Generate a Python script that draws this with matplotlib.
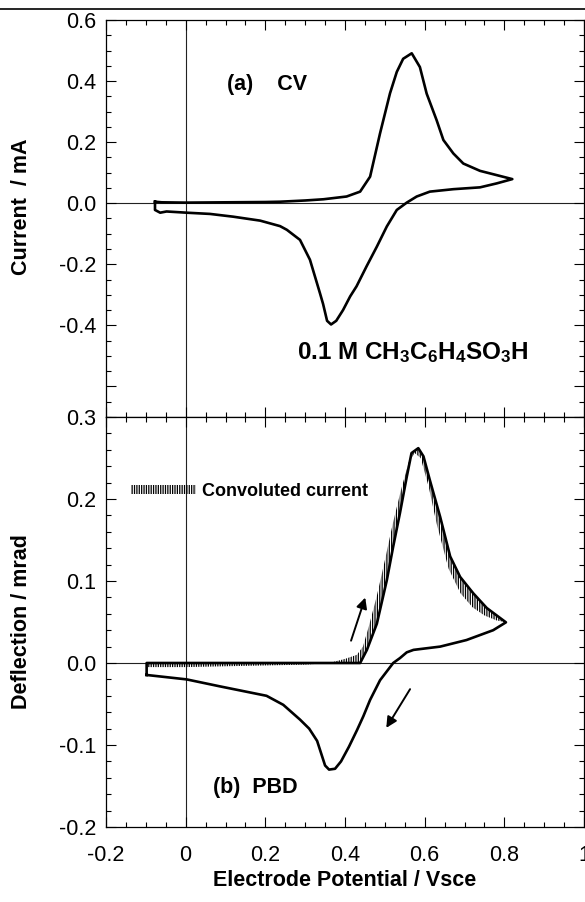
import numpy as np
import matplotlib
matplotlib.use("Agg")
import matplotlib.pyplot as plt
from matplotlib.patches import Polygon, Patch
from matplotlib.lines import Line2D
from matplotlib.ticker import MultipleLocator, FixedLocator, FixedFormatter

plt.rcParams['font.family'] = ['Liberation Sans', 'DejaVu Sans']
plt.rcParams['mathtext.fontset'] = 'custom'
plt.rcParams['mathtext.rm'] = 'Liberation Sans:bold'
plt.rcParams['mathtext.bf'] = 'Liberation Sans:bold'
plt.rcParams['mathtext.default'] = 'bf'
plt.rcParams['axes.unicode_minus'] = False
plt.rcParams['hatch.linewidth'] = 0.9

# (a) cyclic voltammogram: forward scan, vertex, return scan
cv_x = [-0.077, -0.06, 0.0, 0.1, 0.2, 0.237, 0.30, 0.346, 0.404, 0.438, 0.463, 0.488,
        0.513, 0.530, 0.546, 0.5675, 0.588, 0.605, 0.630, 0.647, 0.672, 0.697, 0.739,
        0.781, 0.820,
        0.781, 0.739, 0.672, 0.613, 0.580, 0.555, 0.530, 0.505, 0.480, 0.454, 0.429,
        0.413, 0.395, 0.378, 0.365, 0.355, 0.345, 0.337, 0.312, 0.287, 0.254, 0.237,
        0.187, 0.119, 0.061, 0.0025, -0.048, -0.064, -0.077, -0.077]
cv_y = [0.005, 0.003, 0.002, 0.003, 0.004, 0.005, 0.009, 0.013, 0.022, 0.038, 0.087, 0.229,
        0.36, 0.43, 0.473, 0.491, 0.446, 0.359, 0.272, 0.207, 0.163, 0.130, 0.106,
        0.092, 0.079,
        0.065, 0.052, 0.046, 0.038, 0.022, 0.002, -0.022, -0.076, -0.142, -0.207, -0.272,
        -0.305, -0.35, -0.385, -0.397, -0.385, -0.33, -0.294, -0.185, -0.12, -0.087, -0.075,
        -0.057, -0.044, -0.035, -0.031, -0.027, -0.031, -0.022, 0.005]

# (b) probe beam deflection
pbd_x = [-0.098, -0.098, 0.0, 0.1, 0.2, 0.3, 0.4, 0.438, 0.455, 0.48, 0.505, 0.521,
         0.538, 0.555, 0.567, 0.584, 0.597, 0.613, 0.639, 0.664, 0.689, 0.722, 0.756,
         0.804,
         0.772, 0.705, 0.639, 0.572, 0.555, 0.538, 0.521, 0.488, 0.463, 0.446, 0.43,
         0.41, 0.39, 0.375, 0.36, 0.35, 0.33, 0.31, 0.287, 0.245, 0.203, 0.086, 0.0025,
         -0.098]
pbd_y = [-0.0146, 0.0, 0.0, 0.0, 0.0, 0.0, 0.0, 0.0, 0.016, 0.048, 0.101, 0.142,
         0.183, 0.227, 0.256, 0.262, 0.252, 0.223, 0.178, 0.130, 0.105, 0.085, 0.067,
         0.0496,
         0.040, 0.028, 0.020, 0.016, 0.013, 0.006, 0.0, -0.021, -0.045, -0.065, -0.082,
         -0.102, -0.12, -0.129, -0.13, -0.125, -0.095, -0.08, -0.069, -0.051, -0.040,
         -0.0285, -0.020, -0.0146]
n_fwd = 24  # points of the forward branch in pbd_x / pbd_y

# convoluted current (forward scan only)
conv_x = [-0.095, 0.0, 0.1, 0.2, 0.3, 0.36, 0.40, 0.43, 0.445, 0.46, 0.48, 0.50, 0.52,
          0.54, 0.56, 0.575, 0.59, 0.61, 0.63, 0.66, 0.69, 0.72, 0.75, 0.78, 0.804]
conv_y = [-0.005, -0.005, -0.004, -0.003, -0.002, 0.0, 0.005, 0.010, 0.02, 0.045, 0.082,
          0.125, 0.17, 0.21, 0.245, 0.256, 0.25, 0.215, 0.17, 0.115, 0.085, 0.068, 0.058,
          0.052, 0.0496]

x_ticks = [-0.2, 0, 0.2, 0.4, 0.6, 0.8, 1.0]
x_labels = ['-0.2', '0', '0.2', '0.4', '0.6', '0.8', '1']
cv_ticks = [0.6, 0.4, 0.2, 0.0, -0.2, -0.4, -0.6]
cv_labels = ['0.6', '0.4', '0.2', '0.0', '-0.2', '-0.4', '']
pbd_ticks = [0.3, 0.2, 0.1, 0.0, -0.1, -0.2]
pbd_labels = ['0.3', '0.2', '0.1', '0.0', '-0.1', '-0.2']

W, H = 585, 902
fig = plt.figure(figsize=(W / 100, H / 100), dpi=100)
ax1 = fig.add_axes([106 / W, 1 - 417 / H, 478 / W, 397 / H])
ax2 = fig.add_axes([106 / W, 1 - 827 / H, 478 / W, 410 / H])

fig.add_artist(Line2D([0, 1], [1 - 9 / H] * 2, color='black', lw=1.2))

for ax in (ax1, ax2):
    ax.set_xlim(-0.2, 1.0)
    ax.xaxis.set_major_locator(FixedLocator(x_ticks))
    ax.xaxis.set_minor_locator(MultipleLocator(0.05))
    ax.tick_params(which='both', direction='in', top=True, right=True, width=0.8,
                   labelsize=15.5)
    ax.tick_params(which='major', length=7)
    ax.tick_params(which='minor', length=3.5)
    ax.tick_params(axis='y', pad=7)
    ax.tick_params(axis='x', pad=13)
    for s in ax.spines.values():
        s.set_linewidth(0.9)
    ax.axhline(0, color='#222222', lw=0.8, zorder=1)
    ax.axvline(0, color='#222222', lw=0.8, zorder=1)

# (a) CV
ax1.set_ylim(-0.7, 0.6)
ax1.yaxis.set_major_locator(FixedLocator(cv_ticks))
ax1.yaxis.set_major_formatter(FixedFormatter(cv_labels))
ax1.yaxis.set_minor_locator(MultipleLocator(0.05))
ax1.tick_params(axis='x', labelbottom=False)
ax1.plot(cv_x, cv_y, color='black', lw=1.9, zorder=3)
ax1.set_ylabel('Current  / mA', fontsize=15.5, fontweight='bold')
ax1.yaxis.set_label_coords(-0.155, 0.53)
ax1.text(0.104, 0.39, '(a)    CV', fontsize=15.5, fontweight='bold', va='center')
ax1.text(0.28, -0.49, r'0.1 M CH$_3$C$_6$H$_4$SO$_3$H', fontsize=17.5,
         fontweight='bold', va='center')

# (b) PBD
ax2.set_ylim(-0.2, 0.3)
ax2.yaxis.set_major_locator(FixedLocator(pbd_ticks))
ax2.yaxis.set_major_formatter(FixedFormatter(pbd_labels))
ax2.yaxis.set_minor_locator(MultipleLocator(0.02))
ax2.xaxis.set_major_formatter(FixedFormatter(x_labels))

band = list(zip(conv_x, conv_y)) + list(zip(pbd_x[1:n_fwd], pbd_y[1:n_fwd]))[::-1]
ax2.add_patch(Polygon(band, closed=True, fill=False, hatch='|||||||',
                      edgecolor='black', lw=0, zorder=2))
ax2.plot(pbd_x, pbd_y, color='black', lw=1.9, zorder=3)

ax2.annotate('', xy=(0.453, 0.083), xytext=(0.413, 0.024),
             arrowprops=dict(arrowstyle='-|>', lw=1.4, color='black', mutation_scale=16))
ax2.annotate('', xy=(0.50, -0.082), xytext=(0.567, -0.029),
             arrowprops=dict(arrowstyle='-|>', lw=1.4, color='black', mutation_scale=16))

ax2.legend(handles=[Patch(fill=False, hatch='|||||||', edgecolor='black', lw=0)],
           labels=['Convoluted current'], loc='center left',
           bbox_to_anchor=(-0.137, 0.209), bbox_transform=ax2.transData,
           frameon=False, borderpad=0, borderaxespad=0, handlelength=3.6,
           handleheight=0.35, handletextpad=0.35,
           prop={'weight': 'bold', 'size': 13})

ax2.text(0.068, -0.152, '(b)  PBD', fontsize=15.5, fontweight='bold', va='center')
ax2.set_ylabel('Deflection / mrad', fontsize=15.5, fontweight='bold')
ax2.yaxis.set_label_coords(-0.155, 0.5)
ax2.set_xlabel('Electrode Potential / Vsce', fontsize=15.5, fontweight='bold',
               labelpad=3)

fig.savefig('out.png', dpi=100)
